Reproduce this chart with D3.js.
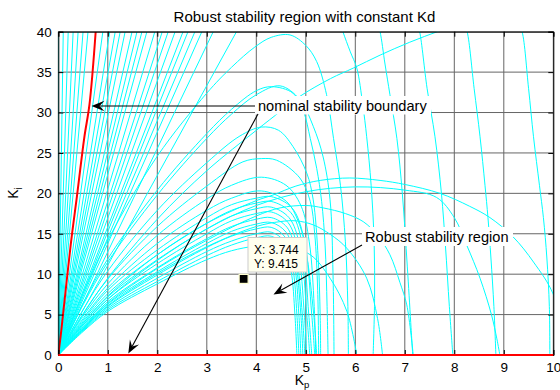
<!DOCTYPE html>
<html><head><meta charset="utf-8">
<script src="https://cdn.jsdelivr.net/npm/d3@7/dist/d3.min.js"></script>
<style>
body{margin:0;background:#fff;}
svg{display:block;}
text{font-family:"Liberation Sans",Arial,Helvetica,sans-serif;}
</style>
</head><body>
<svg id="c" width="560" height="390"></svg>
<script>
// ---------------- data ----------------
const title = "Robust stability region with constant Kd";
const xTicks = [0,1,2,3,4,5,6,7,8,9,10];
const yTicks = [0,5,10,15,20,25,30,35,40];
const xDomain = [0,10];
const yDomain = [0,40];

// steep boundary lines leaving the top edge (Kp where Ki = 40)
const fanTopKp = [0,0.1,0.2,0.3,0.4,0.5,0.6,0.9,1.04,1.15,1.25,1.35,1.49,1.59,1.69,1.79,1.95,2.1,2.22,2.36,2.52,2.62,2.76,2.9,3.13,3.6];

// low arches (peak near Kp ~ 4.3)
const lowArches = [
 [[0,0],[0.5,3],[1,5.6],[2,9.1],[3,12.3],[3.5,13.6],[4,14.5],[4.3,14.7],[4.55,13.6],[4.7,10.5],[4.78,5],[4.82,0]],
 [[0,0],[0.5,3.1],[1,5.8],[2,9.5],[3,12.8],[3.5,14.1],[4,15],[4.3,15.2],[4.56,14.1],[4.73,11],[4.82,5],[4.86,0]],
 [[0,0],[0.5,3.2],[1,6],[2,9.9],[3,13.3],[3.5,14.7],[4,15.6],[4.3,15.8],[4.58,14.6],[4.76,11.5],[4.86,5],[4.9,0]],
 [[0,0],[0.5,3.3],[1,6.3],[2,10.3],[3,13.8],[3.5,15.3],[4,16.2],[4.3,16.4],[4.6,15.2],[4.78,12],[4.9,5],[4.94,0]],
 [[0,0],[0.5,3.5],[1,6.6],[2,10.8],[3,14.4],[3.5,15.9],[4,16.8],[4.3,17],[4.62,15.8],[4.8,12.5],[4.93,5],[4.98,0]],
 [[0,0],[0.5,3.7],[1,6.9],[2,11.3],[3,15],[3.5,16.6],[4,17.5],[4.3,17.7],[4.64,16.4],[4.84,13],[4.97,5],[5.02,0]],
 [[0,0],[0.5,3.9],[1,7.2],[2,11.8],[3,15.6],[3.5,17.2],[4,18.1],[4.3,18.3],[4.66,17],[4.88,13.5],[5.02,5],[5.08,0]],
 [[0,0],[0.5,4.1],[1,7.6],[2,12.4],[3,16.3],[3.5,17.9],[4,18.8],[4.3,19],[4.7,17.6],[4.92,14],[5.06,5],[5.12,0]],
 [[0,0],[0.5,4.3],[1,8],[2,13],[3,17],[3.5,18.6],[4,19.4],[4.3,19.6],[4.72,18.2],[4.96,14.5],[5.12,5],[5.18,0]]
];

// medium arches (peaks 20 - 40)
const midArches = [
 [[0,0],[0.5,4.5],[1,8.3],[2,13.8],[3,17.9],[3.5,19.4],[4.1,20.3],[4.61,19],[4.85,16.5],[5,13],[5.16,5],[5.22,0]],
 [[0,0],[0.5,4.8],[1,8.8],[2,14.8],[3,19.3],[3.5,21],[4.1,22],[4.6,21],[4.9,18.5],[5.07,14],[5.17,6],[5.2,0]],
 [[0,0],[0.5,5.1],[1,9.4],[2,15.9],[3,20.9],[3.73,23.9],[4.1,24.3],[4.41,24.1],[4.88,21.9],[5.09,19],[5.18,15],[5.24,8],[5.26,0]],
 [[0,0],[0.5,5.6],[1,10.4],[2,17.9],[3,23.8],[3.67,27.1],[4.1,28.2],[4.45,27.8],[4.74,25.8],[5.02,22.5],[5.15,19.2],[5.25,12],[5.29,5],[5.3,0]],
 [[0,0],[0.5,6.4],[1,11.9],[2,20.4],[3,27.4],[3.5,30.4],[4,32.7],[4.31,33.2],[4.74,32.4],[4.95,30.2],[5.09,26.8],[5.22,23.1],[5.32,19],[5.39,13.6],[5.43,6],[5.45,0]],
 [[0,0],[0.5,6.2],[1,11.5],[2,19.8],[3,26.8],[3.5,29.8],[4,32.2],[4.48,33.3],[4.88,31.6],[5.15,28.3],[5.35,24.5],[5.49,19.2],[5.55,10],[5.57,0]],
 [[0,0],[0.5,7.6],[1,14.2],[2,24.6],[3,32.4],[3.5,35.6],[3.97,38.1],[4.3,39.3],[4.68,39.6],[5,38.3],[5.22,36.3],[5.42,32.2],[5.56,26.8],[5.7,21],[5.8,14],[5.85,6],[5.86,0]]
];

// wide arches reaching far to the right
const wideArches = [
 [[0,0],[0.5,2.9],[1,5.4],[2,8.8],[3,11.8],[3.5,12.9],[4,13.5],[4.48,13.7],[5.09,12.4],[5.49,9.5],[5.83,5.4],[6.03,0]],
 [[0,0],[0.5,3.2],[1,6.1],[2,10.1],[3,13.4],[4,15.9],[4.48,16.5],[4.8,16.6],[5.15,16.1],[5.5,14.9],[5.83,13.2],[6.23,9.5],[6.45,4.5],[6.55,0]],
 [[0,0],[0.5,3.4],[1,6.4],[2,10.7],[3,14.2],[4,17.2],[4.48,18.2],[5,18.5],[5.35,18.2],[5.8,17.5],[6.16,16.5],[6.45,14.8],[6.7,12.4],[6.9,9],[7.04,6.2],[7.17,0]],
 [[0,0],[0.5,3.7],[1,6.9],[2,11.7],[3,15.6],[4,18.5],[5,20.2],[6,20.8],[7,20.4],[7.64,19.5],[8,17],[8.25,13.6],[8.52,9.5],[8.75,5],[8.86,2],[8.92,0]],
 [[0,0],[0.5,3.9],[1,7.3],[2,12.4],[3,16.3],[4,19.1],[4.34,19.8],[4.8,20.9],[5.29,21.6],[5.89,21.9],[6.5,21.6],[7,21.1],[7.71,20],[8.31,18.4],[8.72,17],[9.19,14.6],[9.6,11.5],[10,7.5],[10.3,0]],
 [[0,0],[0.5,5],[1,9.5],[2,16.8],[3,22.8],[4,27.8],[4.5,30.2],[4.88,32],[5.5,34.2],[5.96,35.5],[6.5,37.1],[7.1,38.7],[7.7,40.1],[8.2,41.2]]
];

// lines falling from the top edge to the Kp axis
const fallingLines = [
 [[5.7,41],[5.75,40],[5.9,37.5],[6.03,35.5],[6.15,31],[6.23,27],[6.32,21],[6.38,14],[6.39,7],[6.36,0]],
 [[6.45,41],[6.5,40],[6.6,36],[6.7,32.2],[6.84,26.8],[6.95,20],[7.05,11],[7.12,4],[7.16,0]],
 [[7.25,41],[7.3,40],[7.45,33],[7.61,27],[7.74,20],[7.82,13.6],[7.9,6],[7.97,0]],
 [[8.2,41],[8.26,40],[8.4,33],[8.52,27],[8.62,21],[8.68,17],[8.74,12],[8.8,6],[8.84,0]],
 [[9.3,41],[9.37,40],[9.5,33],[9.6,27],[9.72,21],[9.8,17],[9.87,12],[9.92,6],[9.93,0]]
];

// nominal stability boundary (red)
const nominalBoundary = [[0,0],[0.06,3],[0.25,13.6],[0.384,20],[0.525,26.9],[0.63,31],[0.755,40]];
const nominalAxis = [[0,0],[10,0]];

// data tip
const tipPoint = [3.744, 9.415];
const tipLines = ["X: 3.744", "Y: 9.415"];
const labelNominal = "nominal stability boundary";
const labelRobust = "Robust stability region";

// ---------------- drawing ----------------
const svg = d3.select("#c");
const X0 = 58.3, X1 = 553.3, Y0 = 355, Y1 = 31.7;
const x = d3.scaleLinear().domain(xDomain).range([X0, X1]);
const y = d3.scaleLinear().domain(yDomain).range([Y0, Y1]);
const FONT = '"Liberation Sans",Arial,Helvetica,sans-serif';

svg.append("rect").attr("width",560).attr("height",390).attr("fill","#fff");

svg.append("defs").append("clipPath").attr("id","plot")
  .append("rect").attr("x",X0).attr("y",Y1).attr("width",X1-X0).attr("height",Y0-Y1);

// grid
const grid = svg.append("g").attr("stroke","#666").attr("stroke-width",1);
grid.selectAll("line.gx").data(xTicks).join("line")
  .attr("x1",d=>x(d)).attr("x2",d=>x(d)).attr("y1",Y0).attr("y2",Y1);
grid.selectAll("line.gy").data(yTicks).join("line")
  .attr("y1",d=>y(d)).attr("y2",d=>y(d)).attr("x1",X0).attr("x2",X1);

// curves
const line = d3.line().x(d=>x(d[0])).y(d=>y(d[1])).curve(d3.curveCatmullRom.alpha(0.5));
const plot = svg.append("g").attr("clip-path","url(#plot)");
const cyan = plot.append("g").attr("fill","none").attr("stroke","#00ffff").attr("stroke-width",1);
cyan.selectAll("path.fan").data(fanTopKp).join("path")
  .attr("d",t=>line([[0,0],[t,40]]));
[lowArches, midArches, wideArches, fallingLines].forEach(set=>{
  cyan.append("g").selectAll("path").data(set).join("path").attr("d",line);
});

// red nominal boundary
svg.append("path").attr("d",line(nominalBoundary)).attr("fill","none")
  .attr("stroke","#ff0000").attr("stroke-width",2).attr("clip-path","url(#plot)");

// axes box and ticks
const fmt = d3.format("d");
const axB = svg.append("g").attr("transform",`translate(0,${Y0})`)
  .call(d3.axisBottom(x).tickValues(xTicks).tickSize(-5).tickPadding(7.5).tickFormat(fmt));
const axL = svg.append("g").attr("transform",`translate(${X0},0)`)
  .call(d3.axisLeft(y).tickValues(yTicks).tickSize(-5).tickPadding(6.6).tickFormat(fmt));
const axT = svg.append("g").attr("transform",`translate(0,${Y1})`)
  .call(d3.axisTop(x).tickValues(xTicks).tickSize(-5).tickFormat(""));
const axR = svg.append("g").attr("transform",`translate(${X1},0)`)
  .call(d3.axisRight(y).tickValues(yTicks).tickSize(-5).tickFormat(""));
[axB,axL,axT,axR].forEach(g=>{
  g.attr("font-size",13.5).attr("font-family",FONT);
  g.selectAll(".domain").attr("stroke","#000");
  g.selectAll(".tick line").attr("stroke","#000");
  g.selectAll(".tick text").attr("fill","#000");
});

// red line along Ki = 0
svg.append("path").attr("d",d3.line().x(d=>x(d[0])).y(d=>y(d[1]))(nominalAxis))
  .attr("stroke","#ff0000").attr("stroke-width",2).attr("fill","none");

// title and axis labels
svg.append("text").attr("x",304.5).attr("y",22).attr("text-anchor","middle")
  .attr("font-size",15).attr("fill","#000").text(title);
const xl = svg.append("text").attr("x",302).attr("y",385).attr("text-anchor","middle").attr("font-size",14).attr("fill","#000");
xl.append("tspan").text("K");
xl.append("tspan").attr("font-size",9.5).attr("dy",2.5).text("p");
const yl = svg.append("text").attr("transform","translate(18,193) rotate(-90)").attr("text-anchor","middle").attr("font-size",14).attr("fill","#000");
yl.append("tspan").text("K");
yl.append("tspan").attr("font-size",10).attr("dy",4).text("i");

// arrows
function arrow(x1,y1,x2,y2){
  const g = svg.append("g");
  const a = Math.atan2(y2-y1, x2-x1);
  const L = 13, W = 5.2, N = 8;
  const bx = x2 - N*Math.cos(a), by = y2 - N*Math.sin(a);
  g.append("line").attr("x1",x1).attr("y1",y1).attr("x2",bx).attr("y2",by)
    .attr("stroke","#000").attr("stroke-width",1.1);
  const p = (d,s)=>[x2 - d*Math.cos(a) - s*Math.sin(a), y2 - d*Math.sin(a) + s*Math.cos(a)];
  const pts = [[x2,y2], p(L, W), p(N,0), p(L,-W)];
  g.append("path").attr("d","M"+pts.map(q=>q.join(",")).join("L")+"Z").attr("fill","#000");
}

// nominal annotation
svg.append("rect").attr("x",255).attr("y",96).attr("width",176).attr("height",18.5).attr("fill","#fff");
svg.append("text").attr("x",258).attr("y",110.5).attr("font-size",14.6).attr("fill","#000").text(labelNominal);
arrow(255,106,91.5,106);
arrow(258,114,128.3,353.5);

// robust annotation
svg.append("rect").attr("x",362).attr("y",227).attr("width",151).attr("height",19).attr("fill","#fff");
svg.append("text").attr("x",365).attr("y",241.5).attr("font-size",14.6).attr("fill","#000").text(labelRobust);
arrow(362,245,273.5,294.5);

// data tip
svg.append("rect").attr("x",248).attr("y",237.5).attr("width",59).attr("height",34.5)
  .attr("fill","#ffffee").attr("stroke","#cccccc").attr("stroke-width",1);
svg.append("g").selectAll("text").data(tipLines).join("text")
  .attr("x",254).attr("y",(d,i)=>253.5+i*14.6).attr("font-size",12).attr("fill","#000").text(d=>d);
svg.append("rect").attr("x",x(tipPoint[0])-4.5).attr("y",y(tipPoint[1])-4.5).attr("width",9).attr("height",9)
  .attr("fill","#000").attr("stroke","#ffffd0").attr("stroke-width",1.2);
</script>
</body></html>
